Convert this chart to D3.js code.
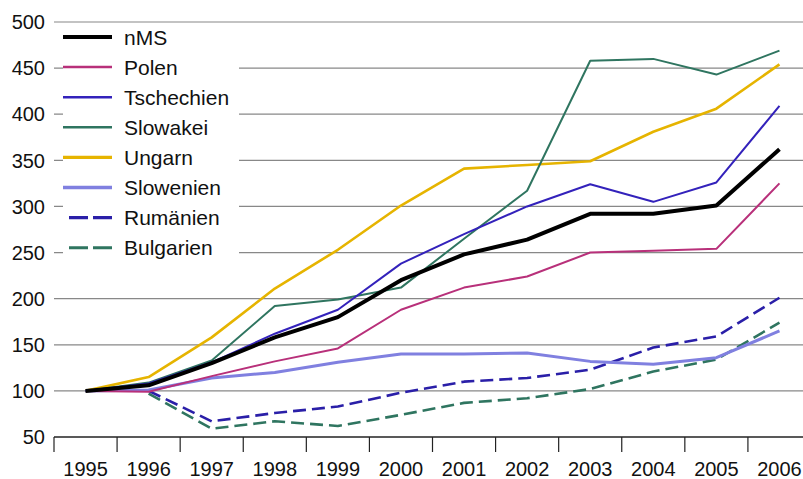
<!DOCTYPE html>
<html>
<head>
<meta charset="utf-8">
<script src="https://cdn.jsdelivr.net/npm/d3@7"></script>
<style>
  body { margin: 0; background: #fff; }
  text { font-family: "Liberation Sans", Arial, sans-serif; fill: #111; }
</style>
</head>
<body>
<script>
// index values, 1995 = 100
var years = ["1995","1996","1997","1998","1999","2000","2001","2002","2003","2004","2005","2006"];
var yTicks = [50,100,150,200,250,300,350,400,450,500];

var nMS        = [100,106,130,158,180,220,248,264,292,292,301,362];
var polen      = [100, 99,116,132,146,188,212,224,250,252,254,325];
var tschechien = [100,108,131,162,188,238,270,300,324,305,326,409];
var slowakei   = [100,109,133,192,199,212,265,317,458,460,443,469];
var ungarn     = [100,115,158,211,253,301,341,345,349,381,406,454];
var slowenien  = [100,101,114,120,131,140,140,141,132,129,136,165];
var rumaenien  = [null,100, 67, 76, 83, 98,110,114,123,147,159,201];
var bulgarien  = [null, 97, 59, 67, 62, 74, 87, 92,102,121,134,174];

var names = ["nMS","Polen","Tschechien","Slowakei","Ungarn","Slowenien","Rumänien","Bulgarien"];
var values = [nMS, polen, tschechien, slowakei, ungarn, slowenien, rumaenien, bulgarien];
var colors = ["#000000","#b8307a","#3322bb","#2f7560","#e6b400","#8080e0","#2a1fa8","#2f7560"];
var widths = [4, 2, 2, 2, 2.6, 3, 2.6, 2.6];
var dashes = [null,null,null,null,null,null,"13,6","13,6"];

var width = 803, height = 479;
var svg = d3.select("body").append("svg")
    .attr("width", width)
    .attr("height", height);

var x = d3.scaleBand().domain(years).range([54, 811]).padding(0);
var y = d3.scaleLinear().domain([50, 500]).range([437, 22]);
var bw = x.bandwidth();

// gridlines
svg.append("g").selectAll("line")
  .data(yTicks.filter(function(d) { return d > 50; }))
  .enter().append("line")
    .attr("x1", 54).attr("x2", width)
    .attr("y1", function(d) { return y(d); })
    .attr("y2", function(d) { return y(d); })
    .attr("stroke", "#888").attr("stroke-width", 1.2);

// y labels
svg.append("g").selectAll("text")
  .data(yTicks)
  .enter().append("text")
    .attr("x", 45)
    .attr("y", function(d) { return y(d); })
    .attr("dy", "0.36em")
    .attr("text-anchor", "end")
    .style("font-size", "20px")
    .text(function(d) { return d; });

// x axis
var xAxis = svg.append("g")
    .attr("transform", "translate(0,437)")
    .call(d3.axisBottom(x).tickSize(15).tickPadding(10).tickSizeOuter(0));
xAxis.select(".domain").attr("d", "M54,0H" + width).attr("stroke", "#222").attr("stroke-width", 1.5);
xAxis.selectAll(".tick line")
    .attr("x1", -bw / 2).attr("x2", -bw / 2)
    .attr("stroke", "#222").attr("stroke-width", 1.2);
xAxis.selectAll(".tick text")
    .style("font-size", "20px")
    .style("font-family", "'Liberation Sans', Arial, sans-serif")
    .attr("fill", "#111");

var line = d3.line()
    .defined(function(d) { return d != null; })
    .x(function(d, i) { return x(years[i]) + bw / 2; })
    .y(function(d) { return y(d); });

// draw order: thin ones first, nMS on top
var order = [7, 6, 5, 1, 4, 3, 2, 0];
svg.append("g").selectAll("path")
  .data(order)
  .enter().append("path")
    .attr("d", function(k) { return line(values[k]); })
    .attr("fill", "none")
    .attr("stroke", function(k) { return colors[k]; })
    .attr("stroke-width", function(k) { return widths[k]; })
    .attr("stroke-dasharray", function(k) { return dashes[k]; })
    .attr("stroke-linejoin", "round");

// legend
var lg = svg.append("g");
lg.append("rect")
    .attr("x", 63).attr("y", 26)
    .attr("width", 176).attr("height", 238)
    .attr("fill", "#fff");

var row = lg.selectAll("g.item")
  .data(names)
  .enter().append("g")
    .attr("class", "item")
    .attr("transform", function(d, i) { return "translate(0," + (37 + i * 30.1) + ")"; });

row.append("line")
    .attr("x1", function(d, i) { return dashes[i] ? 69 : 63; })
    .attr("x2", 112)
    .attr("stroke", function(d, i) { return colors[i]; })
    .attr("stroke-width", function(d, i) { return widths[i] + (i > 0 ? 0.5 : 0); })
    .attr("stroke-dasharray", function(d, i) { return dashes[i] ? "19,5" : null; });

row.append("text")
    .attr("x", 124)
    .attr("dy", "0.36em")
    .style("font-size", "21px")
    .text(function(d) { return d; });
</script>
</body>
</html>
